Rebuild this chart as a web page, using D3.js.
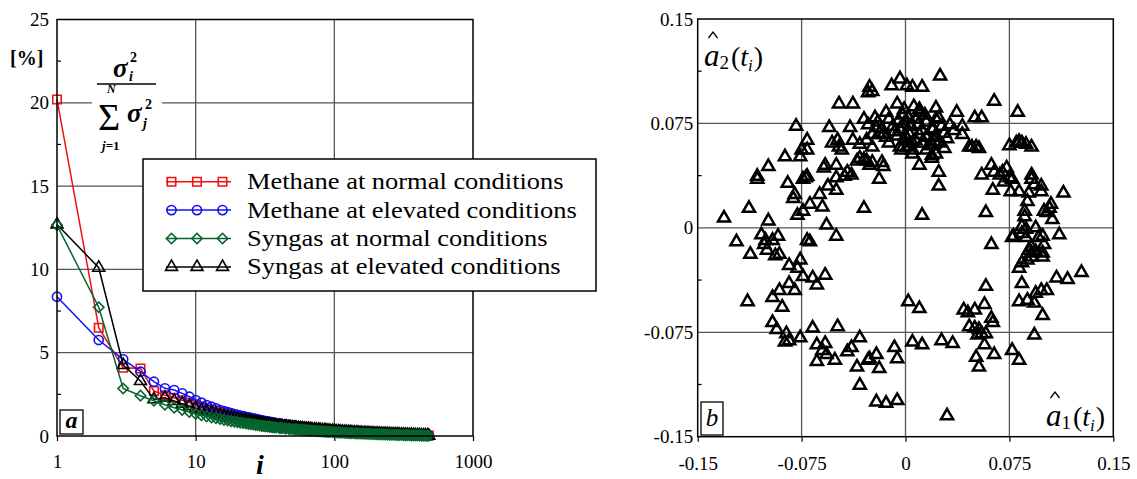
<!DOCTYPE html>
<html>
<head>
<meta charset="utf-8">
<script src="https://cdn.jsdelivr.net/npm/d3@7"></script>
<style>
  html, body { margin: 0; padding: 0; background: #fff; }
  svg { display: block; }
</style>
</head>
<body>
<script>
// ---- Panel a: normalised eigenvalue spectra (percent of total variance) ----
const rank = [1,2,3,4,5,6,7,8,9,10,11,12,13,14,15,16,17,18,19,20,
  21,22,23,24,25,26,27,28,29,30,
  31,32,33,34,35,36,37,38, 40,41,42,44,45,47,48,50, 52,53,55,57,59,61,63,65, 67,69,72,74,77,79,82,85,
  87,90,93,97,100,103,107,110, 114,118,122,126,130,134,139,144, 148,153,158,164,169,175,181,187,
  193,200,206,213,220,228,235,243, 251,260,269,278,287,296,306,317, 327,338,350,361,373,386,399,412,
  426,441,455,470,480];

const methaneNormal = [20.2,6.5,4.1,4.05,2.7,2.45,2.3,2.15,2.0,1.88,
  1.77,1.67,1.58,1.5,1.42,1.36,1.3,1.24,1.19,1.14,
  1.1,1.06,1.02,0.99,0.96,0.93,0.9,0.87,0.85,0.82,
  0.8,0.78,0.76,0.74,0.73,0.71,0.7,0.68, 0.66,0.65,0.63,0.61,0.6,0.58,0.57,0.56,
  0.54,0.53,0.51,0.5,0.48,0.47,0.46,0.44, 0.43,0.42,0.41,0.4,0.385,0.375,0.365,0.355,
  0.345,0.335,0.325,0.315,0.305,0.295,0.285,0.278, 0.27,0.262,0.254,0.246,0.238,0.23,0.222,0.214,
  0.208,0.201,0.195,0.188,0.182,0.176,0.169,0.163, 0.157,0.151,0.145,0.139,0.134,0.128,0.122,0.117,
  0.111,0.106,0.101,0.096,0.091,0.087,0.082,0.078, 0.073,0.069,0.064,0.06,0.056,0.051,0.047,0.043,
  0.039,0.035,0.031,0.027,0.024];

const methaneElevated = [8.36,5.76,4.6,3.86,3.26,2.86,2.76,2.56,2.36,2.16,
  2.0,1.86,1.76,1.66,1.56,1.49,1.43,1.37,1.32,1.27,
  1.23,1.19,1.15,1.11,1.08,1.05,1.02,0.99,0.96,0.93,
  0.91,0.89,0.87,0.85,0.83,0.81,0.79,0.77, 0.74,0.73,0.71,0.69,0.68,0.66,0.65,0.63,
  0.61,0.6,0.58,0.56,0.55,0.53,0.52,0.5, 0.49,0.475,0.46,0.45,0.435,0.425,0.41,0.4,
  0.39,0.38,0.37,0.355,0.345,0.335,0.325,0.315, 0.305,0.295,0.285,0.276,0.268,0.26,0.25,0.242,
  0.235,0.228,0.22,0.212,0.205,0.198,0.19,0.183, 0.176,0.169,0.163,0.156,0.15,0.143,0.137,0.131,
  0.125,0.119,0.113,0.107,0.102,0.097,0.092,0.087, 0.082,0.077,0.072,0.067,0.062,0.057,0.052,0.047,
  0.042,0.037,0.032,0.027,0.024];

const syngasNormal = [12.66,7.73,2.85,2.42,2.12,1.88,1.7,1.56,1.44,1.33,
  1.25,1.18,1.12,1.07,1.02,0.97,0.93,0.89,0.86,0.83,
  0.8,0.78,0.75,0.73,0.71,0.69,0.67,0.65,0.63,0.61,
  0.6,0.58,0.57,0.56,0.54,0.53,0.52,0.51, 0.49,0.48,0.47,0.455,0.45,0.435,0.43,0.415,
  0.4,0.395,0.385,0.375,0.365,0.355,0.345,0.335, 0.325,0.318,0.308,0.3,0.29,0.284,0.275,0.266,
  0.26,0.252,0.245,0.235,0.228,0.221,0.213,0.207, 0.2,0.193,0.187,0.181,0.175,0.17,0.164,0.158,
  0.154,0.149,0.144,0.138,0.134,0.129,0.124,0.119, 0.115,0.11,0.106,0.102,0.098,0.093,0.089,0.085,
  0.081,0.077,0.073,0.069,0.066,0.062,0.059,0.055, 0.052,0.048,0.045,0.042,0.039,0.036,0.033,0.03,
  0.027,0.024,0.021,0.018,0.016];

const syngasElevated = [12.7,10.1,4.26,3.3,2.2,2.3,2.1,1.94,1.8,1.66,
  1.55,1.46,1.38,1.31,1.25,1.19,1.14,1.1,1.06,1.02,
  0.98,0.95,0.92,0.89,0.86,0.83,0.81,0.79,0.77,0.75,
  0.73,0.71,0.69,0.68,0.66,0.65,0.63,0.62, 0.6,0.59,0.58,0.56,0.55,0.53,0.52,0.51,
  0.49,0.48,0.47,0.455,0.445,0.435,0.425,0.415, 0.405,0.395,0.385,0.375,0.365,0.355,0.345,0.335,
  0.325,0.315,0.305,0.295,0.285,0.275,0.265,0.258, 0.25,0.242,0.234,0.226,0.219,0.212,0.205,0.198,
  0.192,0.185,0.179,0.172,0.166,0.16,0.154,0.148, 0.142,0.137,0.131,0.126,0.121,0.115,0.11,0.105,
  0.1,0.095,0.09,0.086,0.082,0.077,0.073,0.069, 0.065,0.061,0.057,0.053,0.049,0.045,0.041,0.037,
  0.033,0.029,0.026,0.022,0.02];

const seriesNames = [
  "Methane at normal conditions",
  "Methane at elevated conditions",
  "Syngas at normal conditions",
  "Syngas at elevated conditions"
];

const rankTicks = [1, 10, 100, 1000];
const shareTicks = [0, 5, 10, 15, 20, 25];
const shareMinorTicks = [2.5, 7.5, 12.5, 17.5, 22.5];

// ---- Panel b: scores on the first two principal directions ----
const scoreTicks = [-0.15, -0.075, 0, 0.075, 0.15];
const scoreMinorTicks = [-0.1125, -0.0375, 0.0375, 0.1125];

const scores = [
  [0.025,0.109],[-0.004,0.107],[-0.010,0.102],[0.001,0.102],[0.005,0.101],[0.012,0.101],[-0.026,0.101],[-0.024,0.098],
  [-0.027,0.097],[-0.048,0.089],[-0.038,0.089],[-0.006,0.089],[0.006,0.087],[0.022,0.086],[0.037,0.083],[-0.014,0.083],
  [-0.002,0.081],[0.010,0.083],[-0.022,0.079],[-0.030,0.078],[0.064,0.091],[0.081,0.083],[0.050,0.079],[0.055,0.079],
  [-0.079,0.073],[0.024,0.079],[0.010,0.085],
  [-0.027,0.074],[-0.021,0.072],[-0.017,0.071],[-0.009,0.073],[-0.004,0.071],[0.003,0.073],[0.009,0.074],[0.015,0.076],
  [0.022,0.078],[0.026,0.073],[0.019,0.071],[0.041,0.073],[0.041,0.067],[-0.055,0.072],[-0.040,0.072],[-0.071,0.063],
  [-0.071,0.056],[-0.049,0.063],[-0.048,0.058],[-0.046,0.056],[-0.038,0.063],[-0.033,0.060],[-0.024,0.067],[-0.019,0.068],
  [-0.014,0.065],[-0.006,0.066],[-0.001,0.063],[0.003,0.067],[0.010,0.067],[0.015,0.065],[0.022,0.066],[0.024,0.061],
  [0.019,0.060],[0.005,0.061],[0.001,0.058],[-0.003,0.056],[-0.024,0.058],[0.021,0.062],[0.012,0.061],[0.015,0.056],
  [-0.012,0.061],[0.005,0.056],[-0.004,0.058],
  [-0.020,0.076],[-0.012,0.078],[-0.005,0.077],[0.002,0.079],[0.008,0.078],[0.014,0.081],[0.020,0.071],[0.028,0.068],
  [0.032,0.074],[-0.016,0.067],[-0.008,0.069],[0.000,0.066],[0.007,0.063],[0.017,0.059],[0.030,0.064],[-0.028,0.063],
  [0.012,0.070],[-0.001,0.075],[0.035,0.070],[0.028,0.057],[-0.001,0.085],[0.004,0.073],[0.016,0.066],[0.021,0.065],
  [0.001,0.064],[0.019,0.052],
  [0.046,0.058],[0.048,0.058],[0.051,0.058],[0.053,0.057],[0.075,0.059],[0.082,0.062],[0.084,0.061],[0.087,0.060],
  [0.091,0.058],[0.080,0.061],[0.062,0.045],[0.055,0.038],[0.064,0.040],[0.070,0.040],[0.073,0.043],[0.075,0.036],
  [0.071,0.033],[0.063,0.027],[0.076,0.026],[0.091,0.038],[0.091,0.035],[0.093,0.031],[0.098,0.030],[0.089,0.025],
  [0.088,0.019],[0.114,0.025],[0.077,0.035],[0.082,0.026],[0.068,0.038],[0.024,0.040],[0.024,0.030],[0.022,0.053],
  [0.019,0.050],[0.005,0.053],[0.010,0.045],[0.012,0.009],[0.058,0.011],[0.086,0.008],[0.102,0.011],[0.104,0.014],
  [0.106,0.006],[0.084,0.001],[0.094,0.000],[0.111,-0.005],[0.078,-0.006],[0.087,-0.007],[0.096,-0.007],[0.062,-0.012],
  [0.089,-0.016],[0.091,-0.018],[0.094,-0.017],[0.099,-0.018],[0.100,-0.012],[0.100,0.012],[0.105,0.017],[0.086,0.012],
  [0.098,0.026],[0.087,-0.001],[0.077,-0.007],[0.084,-0.004],[0.099,-0.006],
  [-0.087,0.051],[-0.076,0.051],[-0.075,0.056],[-0.058,0.045],[-0.050,0.045],[-0.035,0.048],[-0.030,0.049],[-0.024,0.047],
  [-0.017,0.047],[-0.099,0.044],[-0.107,0.037],[-0.107,0.035],[-0.071,0.037],[-0.072,0.036],[-0.074,0.035],[-0.059,0.043],
  [-0.053,0.061],[-0.033,0.050],[-0.028,0.048],[-0.026,0.045],[-0.042,0.040],[-0.039,0.038],[-0.044,0.037],[-0.050,0.036],
  [-0.056,0.030],[-0.050,0.027],[-0.062,0.024],[-0.019,0.035],[-0.016,0.044],[-0.085,0.032],[-0.080,0.024],[-0.081,0.021],
  [-0.069,0.017],[-0.060,0.015],[-0.074,0.012],[-0.078,0.009],[-0.030,0.014],[-0.113,0.014],[-0.131,0.007],[-0.099,0.005],
  [-0.057,0.002],[-0.104,-0.005],[-0.122,-0.010],[-0.096,-0.009],[-0.071,-0.009],[-0.069,-0.010],[-0.050,-0.006],[-0.102,-0.012],
  [-0.100,-0.016],[-0.112,-0.019],[-0.091,-0.019],[-0.076,-0.023],[-0.094,-0.020],[-0.101,-0.009],[-0.092,-0.006],
  [-0.084,-0.027],[-0.078,-0.029],[-0.074,-0.035],[-0.067,-0.036],[-0.058,-0.034],[-0.064,-0.041],[-0.091,-0.045],[-0.084,-0.040],
  [-0.080,-0.045],[-0.096,-0.050],[-0.089,-0.057],[-0.114,-0.053],[-0.096,-0.068],[-0.093,-0.073],[-0.086,-0.076],[-0.087,-0.082],
  [-0.076,-0.079],[-0.067,-0.072],[-0.049,-0.071],[-0.064,-0.084],[-0.058,-0.083],[-0.057,-0.091],[-0.064,-0.096],[-0.051,-0.095],
  [-0.042,-0.089],[-0.039,-0.086],[-0.033,-0.079],[-0.035,-0.100],[-0.026,-0.094],[-0.021,-0.091],[-0.019,-0.101],[-0.033,-0.113],
  [-0.021,-0.125],[-0.014,-0.126],[-0.006,-0.124],[-0.008,-0.086],[-0.006,-0.094],[-0.084,-0.081],[-0.060,-0.088],[-0.027,-0.095],
  [0.002,-0.053],[0.010,-0.058],[0.005,-0.082],[0.012,-0.084],[0.026,-0.081],[0.034,-0.083],[0.030,-0.135],[0.042,-0.059],
  [0.050,-0.059],[0.057,-0.055],[0.062,-0.065],[0.063,-0.068],[0.046,-0.071],[0.050,-0.072],[0.053,-0.073],[0.055,-0.076],
  [0.052,-0.077],[0.058,-0.076],[0.057,-0.084],[0.051,-0.093],[0.064,-0.091],[0.053,-0.100],[0.045,-0.061],[0.058,-0.042],
  [0.077,-0.088],[0.082,-0.095],[0.093,-0.077],[0.099,-0.063],[0.082,-0.053],[0.088,-0.052],[0.093,-0.054],[0.094,-0.047],
  [0.098,-0.045],[0.102,-0.045],[0.109,-0.036],[0.117,-0.037],[0.127,-0.032],[0.084,-0.040],[0.082,-0.029],[0.084,-0.025],
  [0.088,-0.023],[0.091,-0.021],[0.091,-0.014],[0.099,-0.021]
];

// ---------------------------------------------------------------------------
const W = 1137, H = 479;
const GRID = "#555";
const SERIF = '"Liberation Serif", "Times New Roman", serif';

const svg = d3.select("body").append("svg")
  .attr("width", W).attr("height", H);

// Series styling and the order in which they are painted
const series = [
  { name: seriesNames[0], values: methaneNormal,   color: "#f01010", symbol: d3.symbolSquare,   size: 72, rotate: 0 },
  { name: seriesNames[1], values: methaneElevated, color: "#1010f0", symbol: d3.symbolCircle,   size: 66, rotate: 0 },
  { name: seriesNames[2], values: syngasNormal,    color: "#076530", symbol: d3.symbolSquare,   size: 54, rotate: 45 },
  { name: seriesNames[3], values: syngasElevated,  color: "#000000", symbol: d3.symbolTriangle, size: 62, rotate: 0 }
];
const paintOrder = [0, 1, 3, 2];

// typeset helper: every text node gets its font through an inline style
function txt(parent, x, y, size, str, opts = {}) {
  const t = parent.append("text").attr("x", x).attr("y", y)
    .style("font-family", SERIF).style("font-size", size + "px")
    .style("font-style", opts.italic ? "italic" : "normal")
    .style("font-weight", opts.bold ? "bold" : "normal")
    .attr("fill", "#000");
  if (opts.anchor) t.attr("text-anchor", opts.anchor);
  if (str != null) t.text(str);
  return t;
}
function span(t, size, str, opts = {}) {
  const s = t.append("tspan").style("font-size", size + "px")
    .style("font-style", opts.italic ? "italic" : "normal");
  if (opts.dx) s.attr("dx", opts.dx);
  if (opts.dy) s.attr("dy", opts.dy);
  return s.text(str);
}

function styleAxis(ax) {
  ax.select(".domain").remove();
  ax.selectAll("text").attr("fill", "#000")
    .style("font-family", SERIF).style("font-size", "19px");
  ax.selectAll("line").attr("stroke", "#000").attr("stroke-width", 1.2);
}

// ====================== Panel a ======================
const xa = d3.scaleLog().domain([1, 1000]).range([57, 473]);
const ya = d3.scaleLinear().domain([0, 25]).range([436, 19.5]);

const pa = svg.append("g");

// grid
pa.append("g").selectAll("line")
  .data(rankTicks.slice(1, -1)).join("line")
  .attr("x1", d => xa(d)).attr("x2", d => xa(d))
  .attr("y1", ya(0)).attr("y2", ya(25))
  .attr("stroke", GRID).attr("stroke-width", 1.3);
pa.append("g").selectAll("line")
  .data(shareTicks.slice(1, -1)).join("line")
  .attr("x1", xa(1)).attr("x2", xa(1000))
  .attr("y1", d => ya(d)).attr("y2", d => ya(d))
  .attr("stroke", GRID).attr("stroke-width", 1.3);

// minor ticks on the left edge
pa.append("g").selectAll("line")
  .data(shareMinorTicks).join("line")
  .attr("x1", xa(1)).attr("x2", xa(1) + 4)
  .attr("y1", d => ya(d)).attr("y2", d => ya(d))
  .attr("stroke", "#000").attr("stroke-width", 1.2);

// axes
styleAxis(pa.append("g").attr("transform", `translate(0,${ya(0)})`)
  .call(d3.axisBottom(xa).tickValues(rankTicks).tickFormat(d => String(d))
        .tickSizeInner(5).tickSizeOuter(0).tickPadding(14)));
styleAxis(pa.append("g").attr("transform", `translate(${xa(1)},0)`)
  .call(d3.axisLeft(ya).tickValues(shareTicks).tickFormat(d => String(d))
        .tickSize(0).tickPadding(8)));

// white backing behind the ratio formula
pa.append("rect").attr("x", 92).attr("y", 48).attr("width", 70).attr("height", 104).attr("fill", "#fff");

// series lines and markers
const lineA = d3.line().x((d, i) => xa(rank[i])).y(d => ya(d));
paintOrder.forEach(k => {
  const s = series[k];
  const g = pa.append("g");
  g.append("path").datum(s.values)
    .attr("d", lineA).attr("fill", "none")
    .attr("stroke", s.color).attr("stroke-width", 1.5);
  g.selectAll("path.m").data(s.values).join("path")
    .attr("class", "m")
    .attr("d", d3.symbol(s.symbol, s.size))
    .attr("transform", (d, i) => `translate(${xa(rank[i])},${ya(d)}) rotate(${s.rotate})`)
    .attr("fill", "none").attr("stroke", s.color).attr("stroke-width", 1.6);
});

// frame
pa.append("rect")
  .attr("x", xa(1)).attr("y", ya(25))
  .attr("width", xa(1000) - xa(1)).attr("height", ya(0) - ya(25))
  .attr("fill", "none").attr("stroke", "#000").attr("stroke-width", 1.5);

// axis titles
txt(pa, 10, 65, 20, "[%]", { bold: true });
txt(pa, 260, 474, 28, "i", { bold: true, italic: true, anchor: "middle" });

// ratio formula  sigma_i^2 / sum_{j=1}^{N} sigma_j^2
const fm = pa.append("g");
txt(fm, 113, 77, 27, "σ", { bold: true, italic: true });
txt(fm, 130, 62, 14, "2", { bold: true });
txt(fm, 129, 81, 14, "i", { bold: true, italic: true });
fm.append("line").attr("x1", 97).attr("x2", 156).attr("y1", 84).attr("y2", 84)
  .attr("stroke", "#000").attr("stroke-width", 1.3);
txt(fm, 98, 130, 38, "Σ");
txt(fm, 107, 93, 12, "N", { bold: true, italic: true });
const jt = txt(fm, 102, 150, 13, null, { bold: true });
span(jt, 13, "j", { italic: true });
span(jt, 13, "=1");
txt(fm, 127, 122, 27, "σ", { bold: true, italic: true });
txt(fm, 145, 109, 14, "2", { bold: true });
txt(fm, 143, 128, 14, "j", { bold: true, italic: true });

// legend
const lg = pa.append("g");
lg.append("rect").attr("x", 143).attr("y", 159).attr("width", 453).attr("height", 132)
  .attr("fill", "#fff").attr("stroke", "#000").attr("stroke-width", 1.5);
series.forEach((s, k) => {
  const cy = 181.7 + k * 28.4;
  const row = lg.append("g");
  row.append("line").attr("x1", 166).attr("x2", 231).attr("y1", cy).attr("y2", cy)
    .attr("stroke", s.color).attr("stroke-width", 1.5);
  [171.5, 197, 222.5].forEach(mx => {
    row.append("path").attr("d", d3.symbol(s.symbol, s.size)())
      .attr("transform", `translate(${mx},${cy}) rotate(${s.rotate})`)
      .attr("fill", "none").attr("stroke", s.color).attr("stroke-width", 1.6);
  });
  const t = txt(row, 247, cy + 7.5, 23, s.name);
  const len = t.node().getComputedTextLength();
  t.attr("textLength", len * 1.15).attr("lengthAdjust", "spacingAndGlyphs");
});

// panel tag
pa.append("rect").attr("x", 60).attr("y", 410).attr("width", 23).attr("height", 24)
  .attr("fill", "#fff").attr("stroke", "#000").attr("stroke-width", 1.3);
txt(pa, 71.5, 428, 24, "a", { bold: true, italic: true, anchor: "middle" });

// ====================== Panel b ======================
const xb = d3.scaleLinear().domain([-0.15, 0.15]).range([697.7, 1113.3]);
const yb = d3.scaleLinear().domain([-0.15, 0.15]).range([436.7, 19]);

const pb = svg.append("g");

pb.append("g").selectAll("line")
  .data(scoreTicks.slice(1, -1)).join("line")
  .attr("x1", d => xb(d)).attr("x2", d => xb(d))
  .attr("y1", yb(-0.15)).attr("y2", yb(0.15))
  .attr("stroke", GRID).attr("stroke-width", 1.3);
pb.append("g").selectAll("line")
  .data(scoreTicks.slice(1, -1)).join("line")
  .attr("x1", xb(-0.15)).attr("x2", xb(0.15))
  .attr("y1", d => yb(d)).attr("y2", d => yb(d))
  .attr("stroke", GRID).attr("stroke-width", 1.3);
pb.append("g").selectAll("line")
  .data(scoreMinorTicks).join("line")
  .attr("x1", xb(-0.15)).attr("x2", xb(-0.15) + 4)
  .attr("y1", d => yb(d)).attr("y2", d => yb(d))
  .attr("stroke", "#000").attr("stroke-width", 1.2);

styleAxis(pb.append("g").attr("transform", `translate(0,${yb(-0.15)})`)
  .call(d3.axisBottom(xb).tickValues(scoreTicks).tickFormat(d => String(d))
        .tickSizeInner(5).tickSizeOuter(0).tickPadding(15)));
styleAxis(pb.append("g").attr("transform", `translate(${xb(-0.15)},0)`)
  .call(d3.axisLeft(yb).tickValues(scoreTicks).tickFormat(d => String(d))
        .tickSize(0).tickPadding(4.5)));

// score markers
pb.append("g").selectAll("path").data(scores).join("path")
  .attr("d", d3.symbol(d3.symbolTriangle, 64))
  .attr("transform", d => `translate(${xb(d[0])},${yb(d[1])})`)
  .attr("fill", "none").attr("stroke", "#000").attr("stroke-width", 2.5)
  .attr("stroke-linejoin", "miter");

pb.append("rect")
  .attr("x", xb(-0.15)).attr("y", yb(0.15))
  .attr("width", xb(0.15) - xb(-0.15)).attr("height", yb(-0.15) - yb(0.15))
  .attr("fill", "none").attr("stroke", "#000").attr("stroke-width", 1.5);

// axis titles: hat a_k ( t_i )
function hatLabel(x, y, k) {
  const g = pb.append("g");
  const t = txt(g, x, y, 30, null);
  span(t, 31, "a", { italic: true });
  span(t, 19, k, { dy: 3 });
  span(t, 28, "(", { dy: -3, dx: 2 });
  span(t, 28, "t", { italic: true });
  span(t, 17, "i", { italic: true, dy: 5 });
  span(t, 28, ")", { dy: -5, dx: 1 });
  // circumflex accent over the a
  const cx = x + 9, top = y - 34;
  g.append("path").attr("d", `M${cx - 4.5},${top + 6}L${cx},${top}L${cx + 4.5},${top + 6}`)
    .attr("fill", "none").attr("stroke", "#000").attr("stroke-width", 1.3);
}
hatLabel(704, 66, "2");
hatLabel(1046, 426, "1");

// panel tag
pb.append("rect").attr("x", 701).attr("y", 402).attr("width", 22).attr("height", 33)
  .attr("fill", "#fff").attr("stroke", "#000").attr("stroke-width", 1.3);
txt(pb, 712, 426, 25, "b", { italic: true, anchor: "middle" });
</script>
</body>
</html>
